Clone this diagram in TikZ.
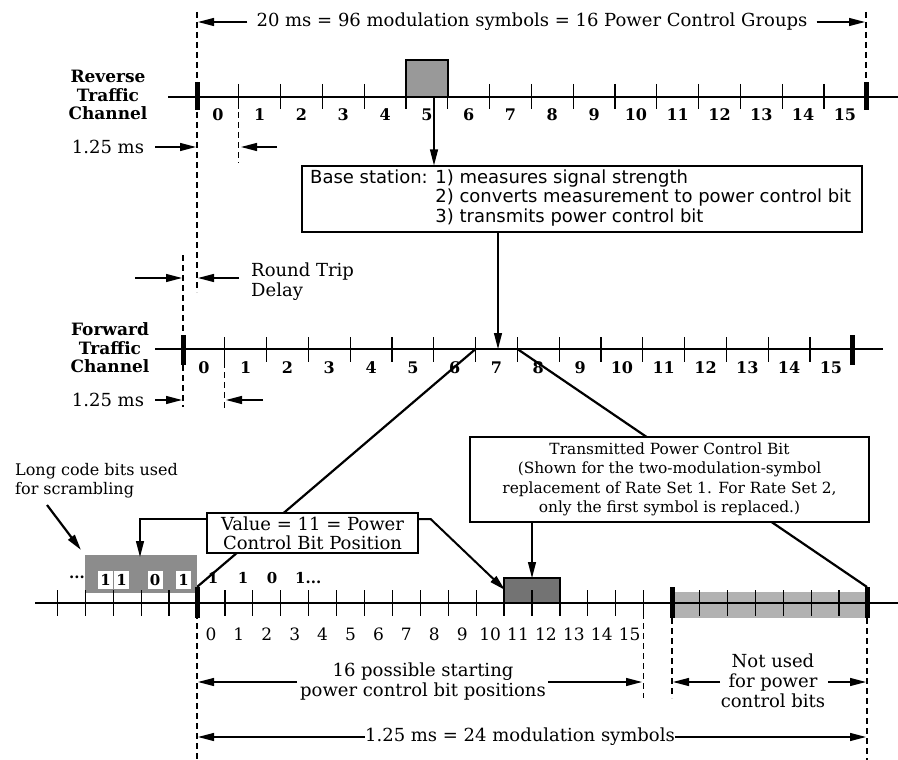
\documentclass[tikz,border=0pt]{standalone}
\usepackage{fontspec}
\setmainfont{DejaVu Serif}
\newfontfamily\bsfont{DejaVu Sans}
\usetikzlibrary{arrows.meta}
\definecolor{revgray}{gray}{0.6}
\definecolor{lcgray}{gray}{0.55}
\definecolor{pcgray}{gray}{0.45}
\definecolor{nugray}{gray}{0.7}
\begin{document}
\begin{tikzpicture}[x=1pt,y=-1pt,
  axisline/.style={line width=1.4pt},
  tickline/.style={line width=1.2pt},
  dashline/.style={dash pattern=on 6pt off 4pt, line width=1.1pt},
  arr/.style={-{Triangle[length=16pt,width=8pt]}, line width=1.2pt},
  diag/.style={line width=2.2pt},
  lbl/.style={font=\fontsize{18}{20}\selectfont, inner sep=0pt},
  boxtxt/.style={font=\fontsize{15.4}{19.3}\selectfont, inner sep=0pt, align=center},
  chan/.style={font=\bfseries\fontsize{17}{18.5}\selectfont, inner sep=0pt, align=center},
  numb/.style={font=\bfseries\fontsize{16}{16}\selectfont, inner sep=0pt},
  nums/.style={font=\fontsize{17}{17}\selectfont, inner sep=0pt},
  bitnum/.style={font=\bfseries\fontsize{15}{15}\selectfont, inner sep=0pt},
  wbit/.style={fill=white, minimum width=15pt, minimum height=18pt, inner sep=0pt, font=\bfseries\fontsize{15}{15}\selectfont}]
\useasboundingbox (0,0) rectangle (898,760);

% ---------------- top dimension ----------------
\coordinate (tl) at (198,22);
\coordinate (tr) at (865,22);
\draw[dashline] (197,12) -- (197,292);
\draw[dashline] (866,12) -- (866,84);
\node[lbl] (top) at (532,22) {20 ms = 96 modulation symbols = 16 Power Control Groups};
\draw[arr] ([xshift=-9pt]top.west) -- (tl);
\draw[arr] ([xshift=9pt]top.east) -- (tr);

% ---------------- reverse traffic channel ----------------
\node[chan] (rtc) at (108,95) {Reverse\\Traffic\\Channel};
\fill[revgray] (406,60) rectangle (447.8,97);
\draw[line width=1.4pt] (406,97) -- (406,60) -- (447.8,60) -- (447.8,97);
\draw[axisline] (168,97) -- (898,97);
\foreach \k in {1,...,15} \draw[tickline] ({197+41.8*\k},84) -- ++(0,25);
\fill (194.5,82) rectangle (199.5,110);
\fill (863.5,82) rectangle (868.5,110);
\foreach \k in {0,...,15} \node[numb] (r\k) at ({197+41.8*\k+20.9},115) {\k};

\node[lbl] (rms) at (108,147) {1.25 ms};
\coordinate (r0a) at (196,147);
\coordinate (r1a) at (241,147);
\draw[arr] (155,147) -- (r0a);
\draw[dashline] (238.8,112) -- (238.8,163);
\draw[arr] (277,147) -- (r1a);

% ---------------- base station ----------------
\node[draw, line width=1.2pt, minimum width=560pt, minimum height=66pt, inner sep=0pt] (bs) at (582,199) {};
\node[anchor=west, inner sep=0pt, font=\bsfont\fontsize{18}{19}\selectfont] (bstxt) at (310,199)
  {\begin{tabular}{@{}l@{ }l@{}}Base station: & 1) measures signal strength\\ & 2) converts measurement to power control bit\\ & 3) transmits power control bit\end{tabular}};
\coordinate (rsrc) at (434,97);
\draw[arr] (rsrc) -- (bs.north -| rsrc);
\coordinate (fdst) at (498,349);
\draw[arr] (bs.south -| fdst) -- (fdst);

% ---------------- round trip delay ----------------
\draw[dashline] (183,255) -- (183,407);
\coordinate (rtl) at (182,278);
\coordinate (rtr) at (198,278);
\draw[arr] (135,278) -- (rtl);
\draw[arr] (239,278) -- (rtr);
\node[lbl, anchor=west, align=left] (rtd) at (251,282) {Round Trip\\Delay};

% ---------------- forward traffic channel ----------------
\node[chan] (ftc) at (110,348) {Forward\\Traffic\\Channel};
\draw[axisline] (155,349) -- (883,349);
\foreach \k in {1,...,15} \draw[tickline] ({183+41.8*\k},337) -- ++(0,25);
\fill (180.5,335) rectangle (185.5,365);
\fill (849.8,335) rectangle (854.8,365);
\foreach \k in {0,...,15} \node[numb] (f\k) at ({183+41.8*\k+20.9},368) {\k};

\node[lbl] (fms) at (108,400) {1.25 ms};
\coordinate (f0a) at (182,400);
\coordinate (f1a) at (226,400);
\draw[arr] (155,400) -- (f0a);
\draw[dashline] (224.8,362) -- (224.8,408);
\draw[arr] (263,400) -- (f1a);

% ---------------- zoom lines ----------------
\coordinate (f7t) at (475.6,349);
\coordinate (f8t) at (517.4,349);
\coordinate (b0t) at (197,587);
\coordinate (b24t) at (867,587);
\draw[diag] (f7t) -- (b0t);
\draw[diag] (f8t) -- (b24t);

% ---------------- bottom axis ----------------
\fill[lcgray] (85,555) rectangle (197,593);
\fill[nugray] (672,592) rectangle (867,618);
\draw[line width=1.4pt, fill=pcgray] (504.1,578) rectangle (560,603);
\draw[axisline] (35,603) -- (898,603);
\foreach \k in {-5,...,-1,1,2,...,16,18,19,...,23} \draw[tickline] ({197+27.917*\k},590) -- ++(0,26);
\fill (194.5,587) rectangle (199.5,618);
\fill (669.5,587) rectangle (674.5,618);
\fill (864.5,587) rectangle (869.5,618);
\foreach \k in {0,...,15} \node[nums] (b\k) at ({197+27.917*(\k+0.5)},634) {\k};

% long code bits
\node[bitnum] (dots) at (77,577) {...};
\node[wbit] (w1) at (105.5,580) {1};
\node[wbit] (w2) at (121.5,580) {1};
\node[wbit] (w3) at (155,580) {0};
\node[wbit] (w4) at (183.5,580) {1};
\node[bitnum] (c1) at (213,578) {1};
\node[bitnum] (c2) at (243,578) {1};
\node[bitnum] (c3) at (272,578) {0};
\node[bitnum, anchor=west] (c4) at (295,578) {1...};
\node[lbl, anchor=north west, align=left, font=\fontsize{16}{19}\selectfont] (lc) at (15,463) {Long code bits used\\for scrambling};
\coordinate (lcs) at (47,505);
\coordinate (lce) at (81,550);
\draw[arr, line width=2.2pt] (lcs) -- (lce);

% value box
\node[draw, fill=white, line width=1.2pt, minimum width=211pt, minimum height=40pt, boxtxt, font=\fontsize{18}{19}\selectfont] (vb) at (312.5,533) {Value = 11 = Power\\Control Bit Position};
\coordinate (vbt) at (140,557);
\draw[arr] ([yshift=14pt]vb.west) -| (vbt);
\coordinate (pct) at (505,590);
\draw[arr, line width=2pt] ([yshift=14pt]vb.east) -- ++(12,0) -- (pct);

% transmitted box
\node[draw, fill=white, line width=1.2pt, minimum width=399pt, minimum height=85pt, boxtxt] (tb) at (669.5,479.5) {Transmitted Power Control Bit\\(Shown for the two-modulation-symbol\\replacement of Rate Set 1. For Rate Set 2,\\only the first symbol is replaced.)};
\coordinate (tbt) at (532,578);
\draw[arr] (tb.south -| tbt) -- (tbt);

% bottom dimensions
\draw[dashline] (197,603) -- (197,760);
\draw[dashline] (643.7,603) -- (643.7,698);
\draw[dashline] (672,618) -- (672,698);
\draw[dashline] (867,618) -- (867,760);

\node[lbl, align=center] (pos) at (423,682) {16 possible starting\\power control bit positions};
\coordinate (p0) at (198,682);
\coordinate (p16) at (642,682);
\draw[arr] (297,682) -- (p0);
\draw[arr] (548,682) -- (p16);

\node[lbl, align=center] (nu) at (773,681) {Not used\\for power\\control bits};
\coordinate (n17) at (673,682);
\coordinate (n24) at (866,682);
\draw[arr] (720,682) -- (n17);
\draw[arr] (828,682) -- (n24);

\node[lbl] (sym) at (520,737) {1.25 ms = 24 modulation symbols};
\coordinate (s0) at (198,737);
\coordinate (s24) at (866,737);
\draw[arr] (sym.west) -- (s0);
\draw[arr] (sym.east) -- (s24);
\end{tikzpicture}
\end{document}
